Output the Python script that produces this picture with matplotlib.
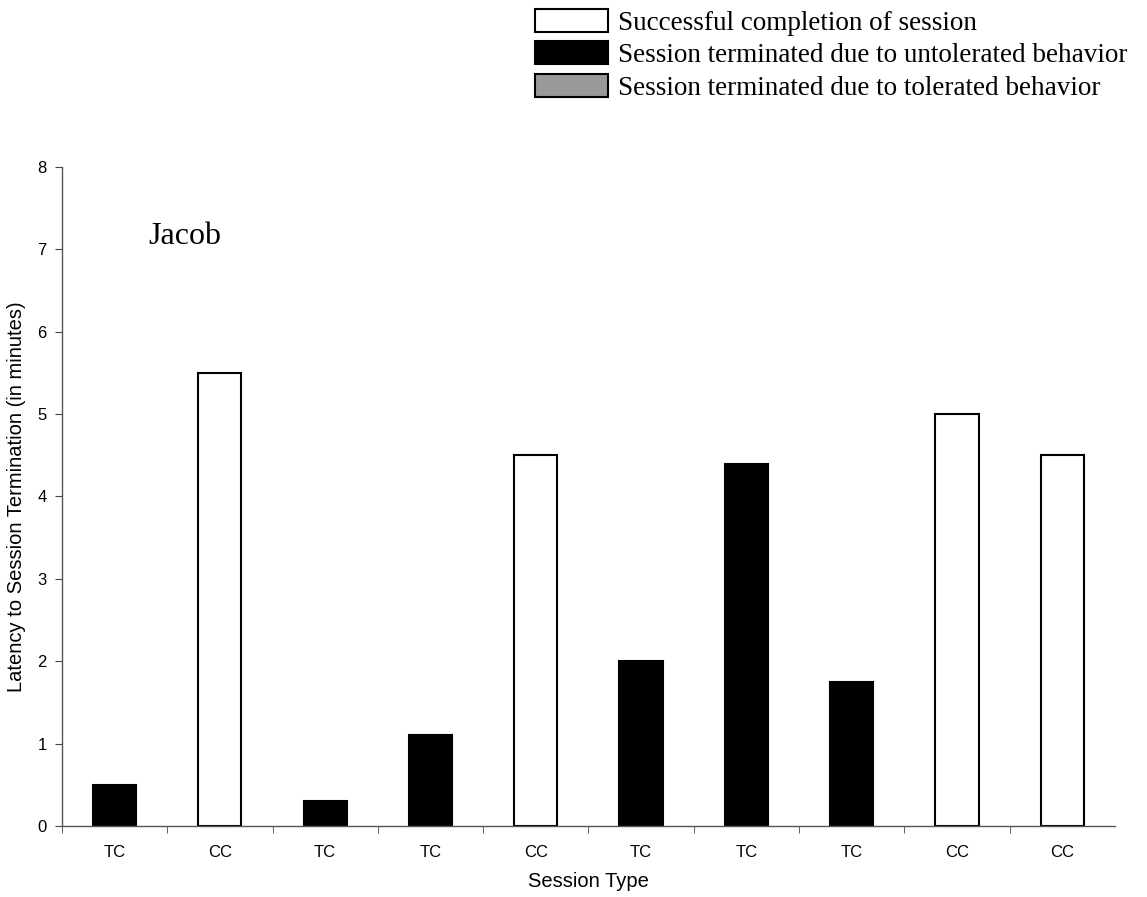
import matplotlib.pyplot as plt
from matplotlib.patches import Patch
import numpy as np

# data
session_types = ["TC", "CC", "TC", "TC", "CC", "TC", "TC", "TC", "CC", "CC"]
latency = [0.5, 5.5, 0.3, 1.1, 4.5, 2.0, 4.4, 1.75, 5.0, 4.5]
outcome = ["untol", "done", "untol", "untol", "done", "untol", "untol", "untol", "done", "done"]

fill = {"done": "white", "untol": "black", "tol": "#999999"}
legend_labels = ["Successful completion of session",
                 "Session terminated due to untolerated behavior",
                 "Session terminated due to tolerated behavior"]

fig = plt.figure(figsize=(11.47, 8.97), dpi=100)
ax = fig.add_axes([0.054, 0.0792, 0.918, 0.7346])

x = np.arange(len(latency))
ax.bar(x, latency, width=0.41, color=[fill[o] for o in outcome],
       edgecolor="black", linewidth=1.5)

ax.set_xlim(-0.5, len(latency) - 0.5)
ax.set_ylim(0, 8)
ax.set_yticks(range(0, 9))
ax.set_xticks(x)
ax.set_xticklabels(session_types)
ax.set_xticks(np.arange(-0.5, len(latency) - 0.5, 1), minor=True)
ax.tick_params(axis="x", which="major", length=0, pad=14)
ax.tick_params(axis="x", which="minor", length=5, color="#444444")
ax.tick_params(axis="y", length=5, color="#444444", pad=6)
for lab in ax.get_xticklabels() + ax.get_yticklabels():
    lab.set_family("Liberation Sans")
    lab.set_fontsize(12)

for side in ["top", "right"]:
    ax.spines[side].set_visible(False)
for side in ["left", "bottom"]:
    ax.spines[side].set_color("#555555")
    ax.spines[side].set_linewidth(1)

ax.set_xlabel("Session Type", family="Liberation Sans", fontsize=14.5, labelpad=8)
ax.set_ylabel("Latency to Session Termination (in minutes)",
              family="Liberation Sans", fontsize=14.5, labelpad=8)

ax.text(0.32, 7.07, "Jacob", family="Liberation Serif", fontsize=23, va="baseline")

handles = [Patch(facecolor=fill[k], edgecolor="black", linewidth=1.5)
           for k in ["done", "untol", "tol"]]
fig.legend(handles, legend_labels, loc="upper left",
           bbox_to_anchor=(535 / 1147, 1 - 9 / 897), frameon=False,
           borderpad=0, borderaxespad=0,
           prop={"family": "Liberation Serif", "size": 19.5},
           handlelength=2.7, handleheight=0.92, handletextpad=0.37,
           labelspacing=0.21)

plt.savefig("out.png", dpi=100)
